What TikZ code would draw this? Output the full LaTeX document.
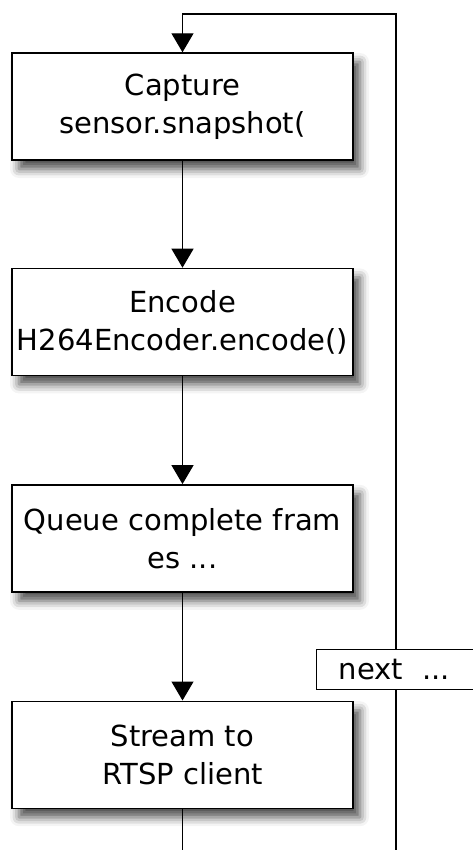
\documentclass[tikz,border=0pt]{standalone}
\usepackage{fontspec}
\setmainfont{DejaVu Sans}
\usetikzlibrary{positioning,arrows.meta,shadows.blur}

\begin{document}
\begin{tikzpicture}[x=1pt, y=-1pt,
    stepbox/.style={draw, line width=1.4pt, fill=white, minimum width=341pt,
      minimum height=107pt, inner sep=0pt, align=center,
      font=\fontsize{29}{38}\selectfont,
      blur shadow={shadow xshift=7pt, shadow yshift=-9pt,
        shadow blur radius=9pt, shadow opacity=70}},
    ln/.style={line width=1.3pt},
    arr/.style={ln, -{Triangle[width=22pt,length=19pt]}},
    lbl/.style={draw, line width=1.3pt, fill=white, anchor=north west,
      font=\fontsize{29}{38}\selectfont, minimum height=40pt,
      text width=130pt, inner xsep=22pt, inner ysep=0pt, align=left}]

  \useasboundingbox (0,0) rectangle (473,850);
  \clip (0,0) rectangle (473,850);

  % pipeline steps
  \node[stepbox] (cap) at (182.5,106.5) {Capture\\sensor.snapshot(};
  \node[stepbox, below=107pt of cap] (enc) {Encode\\H264Encoder.encode()};
  \node[stepbox, below=108pt of enc] (que) {Queue complete fram\\es ...};
  \node[stepbox, below=108pt of que] (str) {Stream to\\RTSP client};

  % loop label
  \node[lbl] (nxt) at (316,649) {next\ \ ...};

  \coordinate (top) at (396,14);
  \coordinate (back) at (396,860);
  \coordinate (end) at (182.5,860);

  % forward flow
  \draw[arr] (cap) -- (enc);
  \draw[arr] (enc) -- (que);
  \draw[arr] (que) -- (str);
  \draw[ln] (str) -- (end);

  % loop back to capture
  \draw[ln] (back) -- (back |- nxt.south);
  \draw[arr] (back |- nxt.north) -- (top) -- (top -| cap.north) -- (cap);
\end{tikzpicture}
\end{document}
